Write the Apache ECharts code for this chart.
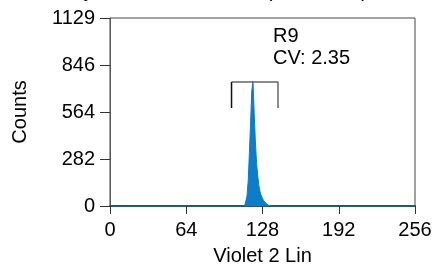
<!DOCTYPE html>
<html>
<head>
<meta charset="utf-8">
<script src="https://cdn.jsdelivr.net/npm/echarts@6/dist/echarts.min.js"></script>
<style>
  html, body { margin: 0; padding: 0; background: #fff; }
  #main { width: 436px; height: 264px; }
</style>
</head>
<body>
<div id="main"></div>
<script>
// histogram bins (channel) and counts
var binChannels = [113, 114, 115, 116, 117, 118, 119, 120, 121, 122, 123, 124, 125, 126, 127, 128, 129, 130, 131, 132, 133, 134, 135];
var binCounts   = [0, 10, 60, 150, 320, 500, 690, 750, 560, 390, 260, 180, 120, 85, 60, 45, 32, 22, 15, 9, 5, 2, 0];

var xTickLabels = ['0', '64', '128', '192', '256'];
var yTickLabels = ['0', '282', '564', '846', '1129'];
var yMax = 1129;

// R9 gate: channel range and bracket levels
var gateRange = [102, 141];
var gateLevels = [588, 745];
var gateName = 'R9';
var gateCV = 'CV: 2.35';

var FONT = 'Liberation Sans, Arial, sans-serif';

var histData = binChannels.map(function (c, i) { return [c, binCounts[i]]; });
var gateLeft = [[gateRange[0], gateLevels[0]], [gateRange[0], gateLevels[1]]];
var gateTop = [[gateRange[0], gateLevels[1]], [gateRange[1], gateLevels[1]], [gateRange[1], gateLevels[0]]];

var myChart = echarts.init(document.getElementById('main'));

var option = {
    animation: false,
    graphic: [
        {
            type: 'text', right: 68, top: -19,
            style: { text: 'Density Plot of Violet 2 Lin (All Events)', font: '20px ' + FONT, fill: '#000' }
        },
        {
            type: 'text', left: 273, top: 25,
            style: { text: gateName + '\n' + gateCV, font: '20px ' + FONT, fill: '#000', lineHeight: 22 }
        }
    ],
    grid: {
        left: 110, right: 21, top: 18, bottom: 58,
        outerBoundsMode: 'none',
        containLabel: false,
        show: true, borderColor: '#444', borderWidth: 1, backgroundColor: '#fff'
    },
    xAxis: {
        type: 'value',
        min: 0, max: 256, interval: 64,
        name: 'Violet 2 Lin',
        nameLocation: 'middle',
        nameGap: 40,
        nameTextStyle: { fontFamily: FONT, fontSize: 20, color: '#000' },
        axisLine: { show: true, onZero: false, lineStyle: { color: '#1d5b7c', width: 2 } },
        axisTick: { show: true, length: 8, lineStyle: { color: '#333' } },
        axisLabel: {
            margin: 14, fontFamily: FONT, fontSize: 20, color: '#000',
            formatter: function (v) { return xTickLabels[Math.round(v / 64)]; }
        },
        splitLine: { show: false }
    },
    yAxis: {
        type: 'value',
        min: 0, max: yMax, interval: yMax / 4,
        name: 'Counts',
        nameLocation: 'middle',
        nameGap: 80,
        nameTextStyle: { fontFamily: FONT, fontSize: 20, color: '#000' },
        axisLine: { show: true, onZero: false, lineStyle: { color: '#555', width: 1 } },
        axisTick: { show: true, length: 10, lineStyle: { color: '#333' } },
        axisLabel: {
            margin: 15, fontFamily: FONT, fontSize: 20, color: '#000',
            formatter: function (v) { return yTickLabels[Math.round(v / (yMax / 4))]; }
        },
        splitLine: { show: false }
    },
    series: [
        {
            type: 'line',
            data: histData,
            showSymbol: false,
            lineStyle: { width: 1, color: '#0b7dc9' },
            itemStyle: { color: '#0b7dc9' },
            areaStyle: { color: '#0b7dc9', opacity: 1 }
        },
        {
            type: 'line',
            data: gateTop,
            showSymbol: false,
            lineStyle: { width: 1.5, color: '#666' },
            z: 5
        },
        {
            type: 'line',
            data: gateLeft,
            showSymbol: false,
            lineStyle: { width: 1.5, color: '#111' },
            z: 6
        }
    ]
};

myChart.setOption(option);
window.onresize = myChart.resize;
</script>
</body>
</html>
